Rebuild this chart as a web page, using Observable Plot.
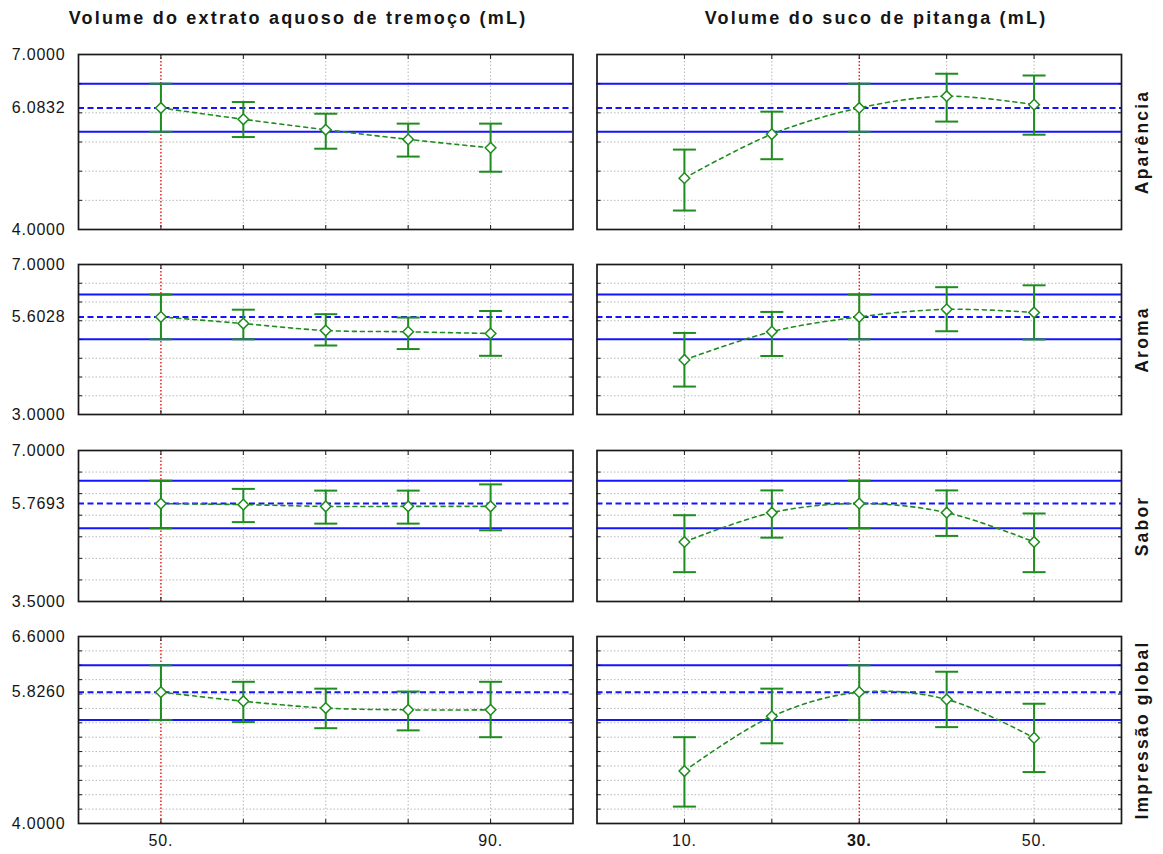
<!DOCTYPE html>
<html>
<head>
<meta charset="utf-8">
<script src="https://cdn.jsdelivr.net/npm/d3@7"></script>
<script src="https://cdn.jsdelivr.net/npm/@observablehq/plot@0.6"></script>
<style>
  body { margin: 0; background: #fff; }
  #chart { position: relative; width: 1163px; height: 854px; font-family: "Liberation Sans", Arial, sans-serif; color: #151515; }
  .title { position: absolute; top: 8px; line-height: 20px; font-weight: bold; font-size: 18px; letter-spacing: 2.2px; white-space: nowrap; transform: translateX(-50%); }
  .panel { position: absolute; }
  .panel svg { overflow: visible; }
  .panel g[aria-label="text"] text { letter-spacing: 2.2px; }
  .panel g[aria-label$="tick label"] text { letter-spacing: 0.8px; }
</style>
</head>
<body>
<div id="chart"></div>
<script>
// ---- data ----------------------------------------------------------------
const factorTitles = ["Volume do extrato aquoso de tremoço (mL)", "Volume do suco de pitanga (mL)"];
const attributes = ["Aparência", "Aroma", "Sabor", "Impressão global"];

const tremocoLevels = [50, 60, 70, 80, 90];
const pitangaLevels = [10, 20, 30, 40, 50];
const tremocoCurrent = 50;
const pitangaCurrent = 30;
const tremocoTickLabels = [50, 90];
const pitangaTickLabels = [10, 50];
const pitangaBoldTickLabels = [30];
const tremocoDomain = [40, 100];
const pitangaDomain = [0, 60];

const yMin = [4.0, 3.0, 3.5, 4.0];
const yMax = [7.0, 7.0, 7.0, 6.6];
const predicted = [6.0832, 5.6028, 5.7693, 5.8260];
const yGrid = [
  [4.5, 5.0, 5.5, 6.0, 6.5],
  [3.5, 4.0, 4.5, 5.0, 5.5, 6.0, 6.5],
  [4.0, 4.5, 5.0, 5.5, 6.0, 6.5],
  [4.2, 4.4, 4.6, 4.8, 5.0, 5.2, 5.4, 5.6, 5.8, 6.0, 6.2, 6.4]
];

// predicted response and confidence limits at each level (rows: attributes)
const tremocoMean = [
  [6.0832, 5.890, 5.710, 5.545, 5.400],
  [5.6028, 5.425, 5.240, 5.205, 5.160],
  [5.7693, 5.745, 5.705, 5.705, 5.705],
  [5.8260, 5.700, 5.605, 5.580, 5.580]
];
const tremocoHigh = [
  [6.500, 6.185, 5.985, 5.815, 5.815],
  [6.200, 5.795, 5.675, 5.585, 5.760],
  [6.300, 6.110, 6.070, 6.070, 6.215],
  [6.200, 5.970, 5.875, 5.835, 5.970]
];
const tremocoLow = [
  [5.675, 5.585, 5.385, 5.250, 4.990],
  [5.005, 5.005, 4.840, 4.745, 4.565],
  [5.195, 5.340, 5.305, 5.305, 5.150],
  [5.440, 5.410, 5.325, 5.295, 5.200]
];
const pitangaMean = [
  [4.880, 5.635, 6.0832, 6.285, 6.140],
  [4.455, 5.210, 5.6028, 5.805, 5.720],
  [4.880, 5.560, 5.7693, 5.560, 4.880],
  [4.730, 5.490, 5.8260, 5.725, 5.190]
];
const pitangaHigh = [
  [5.370, 6.020, 6.500, 6.670, 6.640],
  [5.175, 5.735, 6.200, 6.395, 6.445],
  [5.500, 6.075, 6.300, 6.075, 5.540],
  [5.200, 5.875, 6.200, 6.110, 5.665]
];
const pitangaLow = [
  [4.325, 5.205, 5.675, 5.850, 5.625],
  [3.745, 4.560, 5.005, 5.220, 5.000],
  [4.180, 4.980, 5.195, 5.020, 4.180],
  [4.235, 5.115, 5.440, 5.340, 4.715]
];

// ---- layout ----------------------------------------------------------------
const rowFrames = [[54, 175], [264, 150], [450, 151], [636, 187]]; // frame top, frame height
const columns = [
  {left: 0, width: 575, marginLeft: 78, marginRight: 2.5},
  {left: 585, width: 578, marginLeft: 11.5, marginRight: 42}
];
const blue = "#1414ff";
const green = "#1f8c1f";
const gridGray = "#b8b8b8";
const frameColor = "#1a1a1a";

// horizontal error-bar cap drawn as a dot symbol; half-width equals r
const capSymbol = {
  draw(context, size) {
    const r = Math.sqrt(size / Math.PI);
    context.moveTo(-r, 0);
    context.lineTo(r, 0);
  }
};

const chart = document.getElementById("chart");

factorTitles.forEach((t, c) => {
  const div = document.createElement("div");
  div.className = "title";
  div.textContent = t;
  div.style.left = (c === 0 ? 298 : 876) + "px";
  chart.appendChild(div);
});

function panel(r, c) {
  const isLeft = c === 0;
  const levels = isLeft ? tremocoLevels : pitangaLevels;
  const current = isLeft ? tremocoCurrent : pitangaCurrent;
  const mean = (isLeft ? tremocoMean : pitangaMean)[r];
  const high = (isLeft ? tremocoHigh : pitangaHigh)[r];
  const low = (isLeft ? tremocoLow : pitangaLow)[r];
  const data = levels.map((x, i) => ({x, mean: mean[i], high: high[i], low: low[i]}));
  const atCurrent = data.find((d) => d.x === current);
  const isLast = r === rowFrames.length - 1;
  const [frameTop, frameHeight] = rowFrames[r];
  const col = columns[c];
  const marginTop = 14;
  const marginBottom = isLast ? 34 : 6;

  const marks = [
    Plot.ruleY(yGrid[r], {stroke: gridGray, strokeDasharray: "1.5,2"}),
    Plot.ruleX(levels, {stroke: gridGray, strokeDasharray: "1.5,2"}),
    Plot.ruleX([current], {stroke: "#ff0000", strokeDasharray: "1.5,2", strokeWidth: 1.2}),
    Plot.ruleY([atCurrent.high, atCurrent.low], {stroke: blue, strokeWidth: 2}),
    Plot.ruleY([predicted[r]], {stroke: blue, strokeWidth: 2, strokeDasharray: "6,3.5"}),
    Plot.line(data, {x: "x", y: "mean", curve: "catmull-rom", stroke: green, strokeWidth: 1.6, strokeDasharray: "4,4"}),
    Plot.ruleX(data, {x: "x", y1: "low", y2: "high", stroke: green, strokeWidth: 2}),
    Plot.dot(data, {x: "x", y: "high", symbol: capSymbol, r: 11.5, fill: "none", stroke: green, strokeWidth: 2}),
    Plot.dot(data, {x: "x", y: "low", symbol: capSymbol, r: 11.5, fill: "none", stroke: green, strokeWidth: 2}),
    Plot.dot(data, {x: "x", y: "mean", symbol: "diamond2", r: 4.8, fill: "white", stroke: green, strokeWidth: 1.5}),
    Plot.frame({stroke: frameColor, strokeWidth: 1.7}),
    // short inward ticks on all four sides
    Plot.axisX(levels, {anchor: "bottom", tickSize: -4, tickFormat: () => "", stroke: frameColor}),
    Plot.axisX(levels, {anchor: "top", tickSize: -4, tickFormat: () => "", stroke: frameColor}),
    Plot.axisY(yGrid[r], {anchor: "left", tickSize: -4, tickFormat: () => "", stroke: frameColor}),
    Plot.axisY(yGrid[r], {anchor: "right", tickSize: -4, tickFormat: () => "", stroke: frameColor})
  ];

  if (isLeft) {
    marks.push(Plot.axisY([yMax[r], predicted[r], yMin[r]], {
      anchor: "left", tickSize: 0, tickPadding: 13, tickFormat: d3.format(".4f"), fontSize: 16
    }));
  } else {
    marks.push(Plot.text([attributes[r]], {
      text: (d) => d, frameAnchor: "right", textAnchor: "middle", lineAnchor: "middle",
      dx: 21, rotate: -90, fontWeight: "bold", fontSize: 17.5
    }));
  }

  if (isLast) {
    marks.push(Plot.axisX(isLeft ? tremocoTickLabels : pitangaTickLabels, {
      anchor: "bottom", tickSize: 0, tickPadding: 11, tickFormat: (d) => d + ".", fontSize: 16
    }));
    if (!isLeft) {
      marks.push(Plot.axisX(pitangaBoldTickLabels, {
        anchor: "bottom", tickSize: 0, tickPadding: 11, tickFormat: (d) => d + ".", fontSize: 16, fontWeight: "bold"
      }));
    }
  }

  const svg = Plot.plot({
    width: col.width,
    height: frameHeight + marginTop + marginBottom,
    marginLeft: col.marginLeft,
    marginRight: col.marginRight,
    marginTop,
    marginBottom,
    x: {domain: isLeft ? tremocoDomain : pitangaDomain, label: null},
    y: {domain: [yMin[r], yMax[r]], label: null},
    style: {fontFamily: "'Liberation Sans', Arial, sans-serif", fontSize: "16px", color: "#151515", background: "transparent"},
    marks
  });

  const wrap = document.createElement("div");
  wrap.className = "panel";
  wrap.style.left = col.left + "px";
  wrap.style.top = (frameTop - marginTop) + "px";
  wrap.appendChild(svg);
  chart.appendChild(wrap);
}

for (let r = 0; r < attributes.length; r++) {
  panel(r, 0);
  panel(r, 1);
}
</script>
</body>
</html>
